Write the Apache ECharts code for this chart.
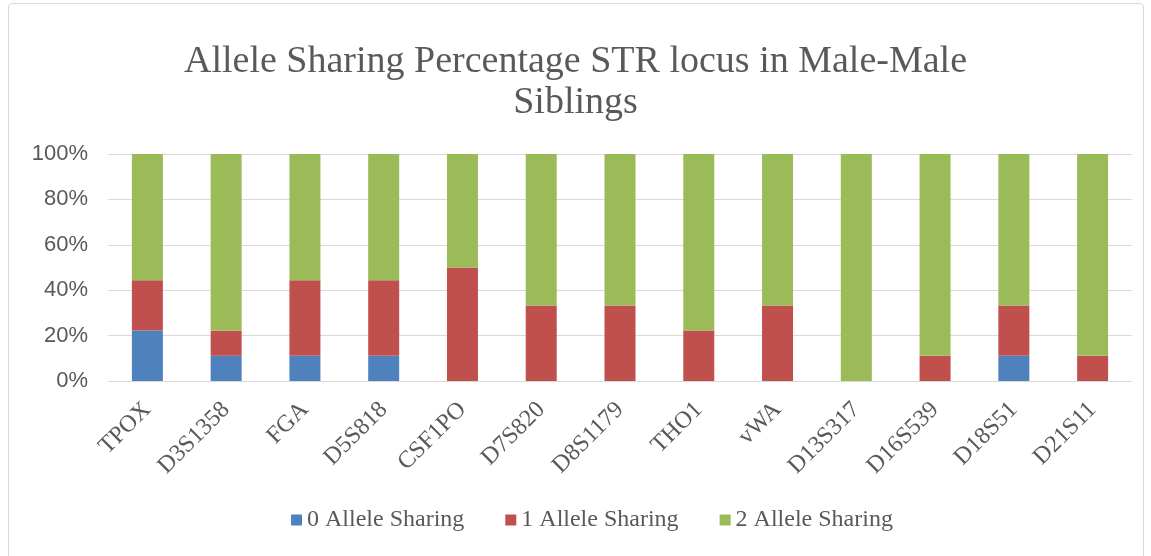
<!DOCTYPE html>
<html>
<head>
<meta charset="utf-8">
<script src="https://cdn.jsdelivr.net/npm/echarts@6/dist/echarts.min.js"></script>
<style>
  html, body { margin: 0; padding: 0; background: #fff; }
  #frame { position: absolute; left: 8px; top: 3px; width: 1134px; height: 570px; border: 1px solid #d9d9d9; border-radius: 4px; }
  #chart { position: absolute; left: 0; top: 0; width: 1151px; height: 556px; }
</style>
</head>
<body>
<div id="frame"></div>
<div id="chart"></div>
<script>
const loci = ['TPOX', 'D3S1358', 'FGA', 'D5S818', 'CSF1PO', 'D7S820', 'D8S1179', 'THO1', 'vWA', 'D13S317', 'D16S539', 'D18S51', 'D21S11'];
// percentages (ninths of 9 sibling pairs)
const share0 = [22.2, 11.1, 11.1, 11.1, 0, 0, 0, 0, 0, 0, 0, 11.1, 0];
const share1 = [22.2, 11.1, 33.3, 33.3, 50, 33.3, 33.3, 22.2, 33.3, 0, 11.1, 22.2, 11.1];
const share2 = [55.6, 77.8, 55.6, 55.6, 50, 66.7, 66.7, 77.8, 66.7, 100, 88.9, 66.7, 88.9];
const seriesNames = ['0 Allele Sharing', '1 Allele Sharing', '2 Allele Sharing'];
const colors = ['#4F81BD', '#C0504D', '#9BBB59'];

const serif = '"Liberation Serif", "DejaVu Serif", serif';
const chart = echarts.init(document.getElementById('chart'));

const makeSeries = (name, data, i) => ({
  name,
  type: 'bar',
  stack: 'total',
  data,
  barWidth: 31,
  itemStyle: { color: colors[i] },
  emphasis: { disabled: true },
});

chart.setOption({
  animation: false,
  title: {
    text: 'Allele Sharing Percentage STR locus in Male-Male\nSiblings',
    left: 'center',
    top: 37,
    textStyle: { fontFamily: serif, fontSize: 38, fontWeight: 'normal', color: '#595959', lineHeight: 41 },
  },
  legend: {
    bottom: 19,
    left: 286,
    itemWidth: 11,
    itemHeight: 11,
    itemGap: 41,
    icon: 'rect',
    textStyle: { fontFamily: serif, fontSize: 24, color: '#595959' },
    data: seriesNames,
  },
  grid: { left: 108, right: 19, top: 154, bottom: 175 },
  xAxis: {
    type: 'category',
    data: loci,
    axisLine: { lineStyle: { color: '#d9d9d9' } },
    axisTick: { show: false },
    axisLabel: { rotate: 45, interval: 0, margin: 25, fontFamily: serif, fontSize: 24, color: '#595959' },
  },
  yAxis: {
    type: 'value',
    min: 0,
    max: 100,
    interval: 20,
    axisLine: { show: false },
    axisTick: { show: false },
    splitLine: { lineStyle: { color: '#d9d9d9', width: 1 } },
    axisLabel: { formatter: '{value}%', margin: 20, fontFamily: '"Liberation Sans", sans-serif', fontSize: 22, color: '#595959' },
  },
  series: [
    makeSeries(seriesNames[0], share0, 0),
    makeSeries(seriesNames[1], share1, 1),
    makeSeries(seriesNames[2], share2, 2),
  ],
});
</script>
</body>
</html>
